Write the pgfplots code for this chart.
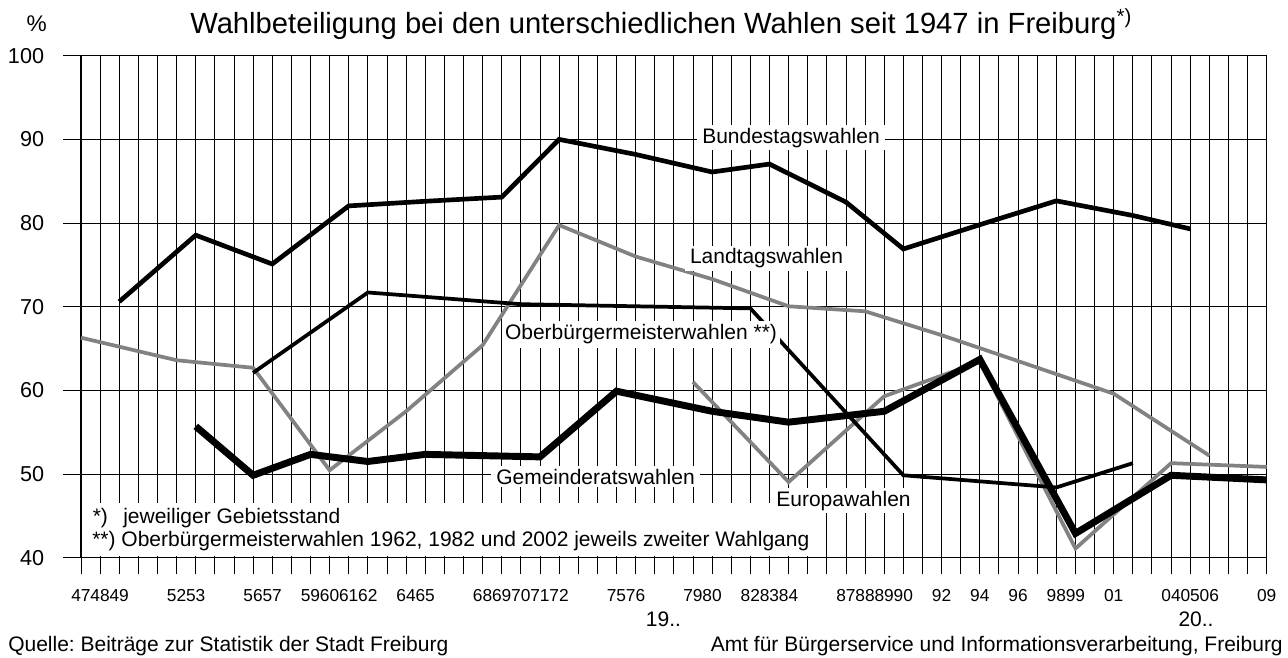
\documentclass[border=0pt]{standalone}
\usepackage{fontspec}
\setmainfont{Liberation Sans}
\usepackage{pgfplots}
\pgfplotsset{compat=1.18}
\definecolor{lg}{RGB}{130,130,130}
\frenchspacing
\begin{document}
\begin{tikzpicture}[px/.style={shift={(-60.75pt,418.275pt)},x=0.75pt,y=-0.75pt}]
\begin{scope}[px]
\path[use as bounding box] (0,0) rectangle (1288,657);
\end{scope}
\begin{axis}[
  at={(0pt,0pt)}, anchor=south west,
  scale only axis, width=889.3pt, height=376.5pt,
  xmin=1947, xmax=2009, ymin=40, ymax=100,
  xtick={1947,1948,1949,1952,1953,1956,1957,1959,1960,1961,1962,1964,1965,1968,1969,1970,1971,1972,1975,1976,1979,1980,1982,1983,1984,1987,1988,1989,1990,1992,1994,1996,1998,1999,2001,2004,2005,2006,2009},
  xticklabels={47,48,49,52,53,56,57,59,60,61,62,64,65,68,69,70,71,72,75,76,79,80,82,83,84,87,88,89,90,92,94,96,98,99,01,04,05,06,09},
  minor xtick={1947,...,2009},
  ytick={40,50,60,70,80,90,100},
  yticklabel=\empty,
  xmajorgrids=false, xminorgrids=true, ymajorgrids=true,
  major grid style={black, line width=0.6pt},
  minor grid style={black, line width=0.6pt},
  tick align=outside,
  major tick length=0pt, minor tick length=12.5pt,
  minor tick style={black, line width=0.6pt},
  xtick pos=bottom, ytick pos=left,
  axis line style={black, line width=0.8pt},
  xticklabel style={font=\fontsize{13}{15}\selectfont, inner xsep=0pt, yshift=-20.5pt},
  clip=false,
]
% Landtagswahlen
\addplot[lg, line width=2.8pt, mark=none] coordinates {
(1947,66.3) (1952,63.6) (1956,62.7) (1960,50.45) (1964,57.5) (1968,65.4) (1972,79.75) (1976,76.0) (1980,73.3) (1984,70.05) (1988,69.45) (1992,66.6) (1996,63.5) (2001,59.6) (2006,52.2)};
% Europawahlen
\addplot[lg, line width=2.8pt, mark=none] coordinates {
(1979,61.0) (1984,49.05) (1989,59.3) (1994,63.4) (1999,41.1) (2004,51.3) (2009,50.85)};
% Oberbuergermeisterwahlen
\addplot[black, line width=2.8pt, mark=none] coordinates {
(1956,62.1) (1962,71.7) (1970,70.3) (1982,69.8) (1990,49.85) (1998,48.4) (2002,51.3)};
% Bundestagswahlen
\addplot[black, line width=3.5pt, mark=none] coordinates {
(1949,70.6) (1953,78.55) (1957,75.1) (1961,82.05) (1965,82.6) (1969,83.1) (1972,90.0) (1976,88.2) (1980,86.1) (1983,87.05) (1987,82.5) (1990,76.9) (1994,79.8) (1998,82.65) (2002,80.9) (2005,79.3)};
% Gemeinderatswahlen
\addplot[black, line width=5.2pt, mark=none] coordinates {
(1953,55.7) (1956,49.85) (1959,52.35) (1962,51.5) (1965,52.35) (1968,52.2) (1971,52.05) (1975,59.9) (1980,57.5) (1984,56.2) (1989,57.5) (1994,63.7) (1999,42.9) (2004,49.85) (2009,49.3)};
\end{axis}
\begin{scope}[px, every node/.style={font=\fontsize{15.75}{18}\selectfont}]
\draw[black, line width=0.6pt] \foreach \yy in {55.7,139.4,223.1,306.7,390.4,474.1,557.7} {(63,\yy) -- (81,\yy)};
\foreach \yy/\lab in {55.7/100,139.4/90,223.1/80,306.7/70,390.4/60,474.1/50,557.7/40}
  \node[anchor=east, inner sep=0pt, font=\fontsize{16.2}{19}\selectfont] at (44.3,\yy) {\lab};
\fill[white] (82.5,503) rectangle (809,555.5);
\node[fill=white, inner xsep=4pt, inner ysep=2pt, anchor=base] at (791,143.3) {Bundestagswahlen};
\node[fill=white, inner xsep=4pt, inner ysep=2pt, anchor=base] at (766.5,264) {Landtagswahlen};
\node[fill=white, inner xsep=2pt, inner ysep=3pt, anchor=base] at (641,340) {Oberbürgermeisterwahlen **)};
\node[fill=white, inner xsep=4pt, inner ysep=2pt, anchor=base] at (595.5,484.3) {Gemeinderatswahlen};
\node[fill=white, inner xsep=4pt, inner ysep=2pt, anchor=base] at (843.5,506) {Europawahlen};
\node[anchor=base west, inner sep=0pt] at (92.5,523.3) {*)};
\node[anchor=base west, inner sep=0pt] at (123,523.3) {jeweiliger Gebietsstand};
\node[anchor=base west, inner sep=0pt] at (92,546.7) {**) Oberbürgermeisterwahlen 1962, 1982 und 2002 jeweils zweiter Wahlgang};
\node[anchor=base west, inner sep=0pt, font=\fontsize{21.9}{25}\selectfont] at (190,33.3) {Wahlbeteiligung bei den unterschiedlichen Wahlen seit 1947 in Freiburg\textsuperscript{*)}};
\node[inner sep=0pt, font=\fontsize{17}{20}\selectfont] at (36.7,24) {\%};
\node[anchor=base, inner sep=0pt] at (663.5,626.7) {19..};
\node[anchor=base, inner sep=0pt] at (1196,626.7) {20..};
\node[anchor=base west, inner sep=0pt] at (8,651) {Quelle: Beiträge zur Statistik der Stadt Freiburg};
\node[anchor=base east, inner sep=0pt] at (1283,651) {Amt für Bürgerservice und Informationsverarbeitung, Freiburg};
\end{scope}
\end{tikzpicture}
\end{document}
